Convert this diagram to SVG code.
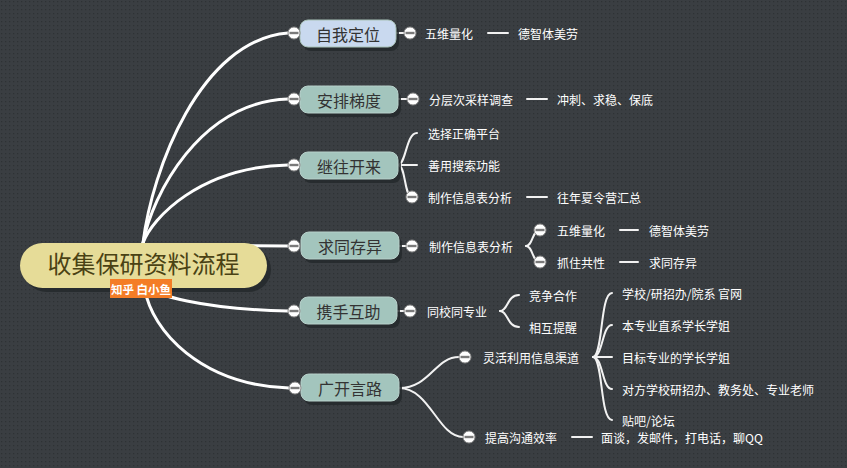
<svg xmlns="http://www.w3.org/2000/svg" xmlns:xlink="http://www.w3.org/1999/xlink" width="847" height="468" viewBox="0 0 847 468">
<defs>
<pattern id="dots" width="4" height="4" patternUnits="userSpaceOnUse">
<rect width="4" height="4" fill="#3a3e42"/>
<rect x="1" y="1" width="1.3" height="1.3" fill="#2e3235"/>
</pattern>
<g id="minus">
<circle r="6" fill="#ffffff" stroke="#8a8a8a" stroke-width="1"/>
<line x1="-4.5" y1="0" x2="4.5" y2="0" stroke="#7a7a7a" stroke-width="2.4"/>
</g>
</defs>
<style>
.main{fill:none;stroke:#ffffff;stroke-width:3;stroke-linecap:round}
.sub{fill:none;stroke:#f2f2f2;stroke-width:2;stroke-linecap:round}
.shadow{fill:#25292c;opacity:0.85}
.box{fill:#a3c5bd;stroke:#b8d1cb;stroke-width:1}
.blue{fill:#c9d9ef;stroke:#a9c2b8;stroke-width:1}
.ntext{font-family:"Noto Sans CJK SC","Noto Sans",sans-serif;font-size:16px;fill:#333333;text-anchor:middle;dominant-baseline:central}
.t{font-family:"Noto Sans CJK SC","Noto Sans",sans-serif;font-size:12px;fill:#ffffff;dominant-baseline:central}
</style>
<rect width="847" height="468" fill="url(#dots)"/>

<g id="connectors">
<path class="main" d="M143,243 C152,170 200,40 288,33"/>
<path class="main" d="M143,243 C152,195 200,102 288,99"/>
<path class="main" d="M143,243 C152,218 200,167 288,165"/>
<path class="main" d="M143,245 L288,246"/>
<path class="main" d="M143,285 C155,295 200,309 288,311"/>
<path class="main" d="M145,290 C152,330 200,385 289,388"/>
<line class="sub" x1="396" y1="33" x2="404" y2="33"/>
<line class="sub" x1="398" y1="99" x2="407" y2="99"/>
<line class="sub" x1="399" y1="246" x2="406" y2="246"/>
<line class="sub" x1="397" y1="311" x2="404" y2="311"/>
<line class="sub" x1="488" y1="33" x2="508" y2="33"/>
<line class="sub" x1="527" y1="99" x2="547" y2="99"/>
<path class="sub" d="M398,165 C406,165 406,133 417,133"/>
<path class="sub" d="M398,165 L417,165"/>
<path class="sub" d="M398,165 C406,165 404,197 412,197"/>
<line class="sub" x1="527" y1="197" x2="547" y2="197"/>
<path class="sub" d="M526,246 C533,246 532,230 540,230"/>
<path class="sub" d="M526,246 C533,246 532,262 540,262"/>
<line class="sub" x1="620" y1="230" x2="638" y2="230"/>
<line class="sub" x1="620" y1="262" x2="638" y2="262"/>
<path class="sub" d="M500,311 C508,311 507,295 519,295"/>
<path class="sub" d="M500,311 C508,311 507,327 519,327"/>
<path class="sub" d="M399,388 C430,388 435,357 459,357"/>
<path class="sub" d="M399,388 C430,388 438,437 463,437"/>
<line class="sub" x1="572" y1="437" x2="592" y2="437"/>
<path class="sub" d="M593,357 C603,357 600,293 612,293"/>
<path class="sub" d="M593,357 C603,357 602,325 612,325"/>
<path class="sub" d="M593,357 L612,357"/>
<path class="sub" d="M593,357 C603,357 602,389 612,389"/>
<path class="sub" d="M593,357 C603,357 600,420 612,420"/>
</g>

<g id="root">
<rect x="24" y="247" width="247" height="45" rx="22.5" class="shadow"/>
<rect x="20" y="243" width="247" height="45" rx="22.5" fill="#e6dc98"/>
<text x="143.5" y="262" font-family="&quot;Noto Sans CJK SC&quot;,&quot;Noto Sans&quot;,sans-serif" font-size="24" fill="#4a4214" text-anchor="middle" dominant-baseline="central">收集保研资料流程</text>
</g>
<g id="watermark">
<rect x="110" y="279" width="62" height="19" fill="#f47d26"/>
<text x="111" y="288.5" font-family="&quot;Noto Sans CJK SC&quot;,&quot;Noto Sans&quot;,sans-serif" font-size="11.5" font-weight="bold" fill="#ffffff" dominant-baseline="central">知乎 白小鱼</text>
</g>

<g id="n1">
<rect x="303" y="24" width="96" height="27" rx="8" class="shadow"/>
<rect x="300" y="20" width="96" height="27" rx="8" class="blue"/>
<text x="348" y="33.5" class="ntext">自我定位</text>
<use xlink:href="#minus" x="294" y="33"/>
<use xlink:href="#minus" x="410" y="33"/>
<text x="425" y="33" class="t">五维量化</text>
<text x="518" y="33" class="t">德智体美劳</text>
</g>
<g id="n2">
<rect x="303" y="90" width="98" height="27" rx="8" class="shadow"/>
<rect x="300" y="86" width="98" height="27" rx="8" class="box"/>
<text x="349" y="99.5" class="ntext">安排梯度</text>
<use xlink:href="#minus" x="294" y="99"/>
<use xlink:href="#minus" x="413" y="99"/>
<text x="429" y="99" class="t">分层次采样调查</text>
<text x="557" y="99" class="t">冲刺、求稳、保底</text>
</g>
<g id="n3">
<rect x="303" y="156" width="98" height="27" rx="8" class="shadow"/>
<rect x="300" y="152" width="98" height="27" rx="8" class="box"/>
<text x="349" y="165.5" class="ntext">继往开来</text>
<use xlink:href="#minus" x="294" y="165"/>
<text x="428" y="133" class="t">选择正确平台</text>
<text x="428" y="165" class="t">善用搜索功能</text>
<use xlink:href="#minus" x="412" y="197"/>
<text x="428" y="197" class="t">制作信息表分析</text>
<text x="557" y="197" class="t">往年夏令营汇总</text>
</g>
<g id="n4">
<rect x="304" y="236" width="98" height="27" rx="8" class="shadow"/>
<rect x="301" y="232" width="98" height="27" rx="8" class="box"/>
<text x="350" y="245.5" class="ntext">求同存异</text>
<use xlink:href="#minus" x="294" y="246"/>
<use xlink:href="#minus" x="412" y="246"/>
<text x="429" y="246" class="t">制作信息表分析</text>
<use xlink:href="#minus" x="540" y="230"/>
<text x="557" y="230" class="t">五维量化</text>
<text x="649" y="230" class="t">德智体美劳</text>
<use xlink:href="#minus" x="540" y="262"/>
<text x="557" y="262" class="t">抓住共性</text>
<text x="649" y="262" class="t">求同存异</text>
</g>
<g id="n5">
<rect x="303" y="301" width="97" height="27" rx="8" class="shadow"/>
<rect x="300" y="297" width="97" height="27" rx="8" class="box"/>
<text x="348.5" y="310.5" class="ntext">携手互助</text>
<use xlink:href="#minus" x="294" y="311"/>
<use xlink:href="#minus" x="410" y="311"/>
<text x="427" y="311" class="t">同校同专业</text>
<text x="529" y="295" class="t">竞争合作</text>
<text x="529" y="327" class="t">相互提醒</text>
</g>
<g id="n6">
<rect x="304" y="378" width="98" height="27" rx="8" class="shadow"/>
<rect x="301" y="374" width="98" height="27" rx="8" class="box"/>
<text x="350" y="387.5" class="ntext">广开言路</text>
<use xlink:href="#minus" x="295" y="388"/>
<use xlink:href="#minus" x="465" y="357"/>
<text x="483" y="357" class="t">灵活利用信息渠道</text>
<text x="622" y="293" class="t">学校/研招办/院系 官网</text>
<text x="622" y="325" class="t">本专业直系学长学姐</text>
<text x="622" y="357" class="t">目标专业的学长学姐</text>
<text x="622" y="389" class="t">对方学校研招办、教务处、专业老师</text>
<text x="622" y="420" class="t">贴吧/论坛</text>
<use xlink:href="#minus" x="469" y="437"/>
<text x="485" y="437" class="t">提高沟通效率</text>
<text x="601" y="437" class="t">面谈，发邮件，打电话，聊QQ</text>
</g>
</svg>
